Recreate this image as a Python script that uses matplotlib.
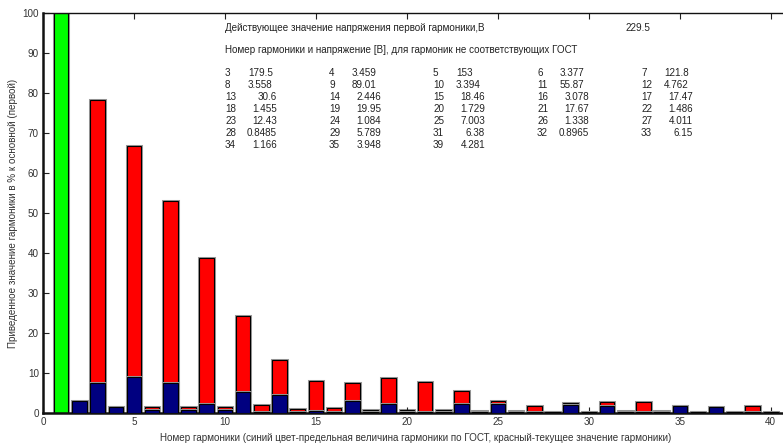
import matplotlib
matplotlib.use("Agg")
import matplotlib.pyplot as plt
import numpy as np

plt.rcParams['font.family'] = ['Liberation Sans', 'DejaVu Sans']

# действующее значение первой гармоники, В
u1 = 229.5

# гармоники, не соответствующие ГОСТ (номер, напряжение В) - из таблицы на графике
bad_h = [3, 4, 5, 6, 7,
         8, 9, 10, 11, 12,
         13, 14, 15, 16, 17,
         18, 19, 20, 21, 22,
         23, 24, 25, 26, 27,
         28, 29, 31, 32, 33,
         34, 35, 39]
bad_v = ['179.5', '3.459', '153', '3.377', '121.8',
         '3.558', '89.01', '3.394', '55.87', '4.762',
         '30.6', '2.446', '18.46', '3.078', '17.47',
         '1.455', '19.95', '1.729', '17.67', '1.486',
         '12.43', '1.084', '7.003', '1.338', '4.011',
         '0.8485', '5.789', '6.38', '0.8965', '6.15',
         '1.166', '3.948', '4.281']

# гармоники в норме (оценка, скрыты под синими столбцами), В
ok_h = [2, 30, 36, 37, 38, 40]
ok_v = [4.0, 0.3, 0.3, 1.0, 0.3, 0.2]

# предельные значения по ГОСТ, % (гармоники 2..40)
gost_h = list(range(2, 41))
gost_pct = [3.0, 7.5, 1.5, 9.0, 0.75, 7.5, 0.75, 2.25, 0.75, 5.25,
            0.3, 4.5, 0.3, 0.45, 0.3, 3.0, 0.3, 2.25, 0.3, 0.3,
            0.3, 2.25, 0.3, 2.25, 0.3, 0.3, 0.3, 1.98, 0.3, 1.87,
            0.3, 0.3, 0.3, 1.69, 0.3, 1.62, 0.3, 0.3, 0.3]

W, H = 783, 445
fig = plt.figure(figsize=(W / 100, H / 100), dpi=100)
ax = fig.add_axes([43 / W, 1 - 413 / H, (789 - 43) / W, 400 / H])

cur_h = bad_h + ok_h
cur_pct = [float(v) / u1 * 100 for v in bad_v] + [v / u1 * 100 for v in ok_v]

# серый ореол вокруг столбцов, затем сами столбцы
for xs, ys, c, z in [([1], [100], '#00ff00', 2),
                     (cur_h, cur_pct, '#ff0000', 2),
                     (gost_h, gost_pct, '#000080', 3)]:
    ax.bar(xs, ys, width=0.8, color='none', edgecolor='#999999', linewidth=2.2, zorder=z - 0.5)
    ax.bar(xs, ys, width=0.8, color=c, edgecolor='black', linewidth=0.8, zorder=z)

ax.set_xlim(0, 41)
ax.set_ylim(0, 100)
ax.set_xticks(np.arange(0, 41, 5))
ax.set_yticks(np.arange(0, 101, 10))
ax.tick_params(direction='in', top=True, right=True, length=4, width=0.8,
               labelsize=7.1, pad=3, colors='#222222', labelcolor='#333333')
ax.spines['left'].set_linewidth(1.8)
ax.spines['bottom'].set_linewidth(1.8)
ax.spines['top'].set_linewidth(1.0)
ax.spines['right'].set_linewidth(1.0)
for s in ax.spines.values():
    s.set_color('#111111')

ax.set_xlabel('Номер гармоники (синий цвет-предельная величина гармоники по ГОСТ, красный-текущее значение гармоники)',
              fontsize=7.1, color='#333333', labelpad=4)
ax.set_ylabel('Приведенное значение гармоники в % к основной (первой)', fontsize=7.1,
              color='#333333')
ax.yaxis.set_label_coords(-0.034, 0.5)

# текст в поле графика
fs = 7.1
fig.text(225 / W, 1 - 28 / H, 'Действующее значение напряжения первой гармоники,В',
         fontsize=fs, va='center', color='#222222')
fig.text(625 / W, 1 - 28 / H, '%.1f' % u1, fontsize=fs, va='center', color='#222222')
fig.text(225 / W, 1 - 50 / H, 'Номер гармоники и напряжение [В], для гармоник не соответствующих ГОСТ',
         fontsize=fs, va='center', color='#222222')
for i, (h, v) in enumerate(zip(bad_h, bad_v)):
    row, col = divmod(i, 5)
    x = 225 + 104 * col
    y = 1 - (73 + 12 * row) / H
    fig.text(x / W, y, str(h), fontsize=fs, va='center', color='#222222')
    if row < 2:
        fig.text((x + 23) / W, y, v, fontsize=fs, va='center', color='#222222')
    else:
        fig.text((x + 52) / W, y, v, fontsize=fs, va='center', ha='right', color='#222222')

fig.savefig('out.png', dpi=100)
